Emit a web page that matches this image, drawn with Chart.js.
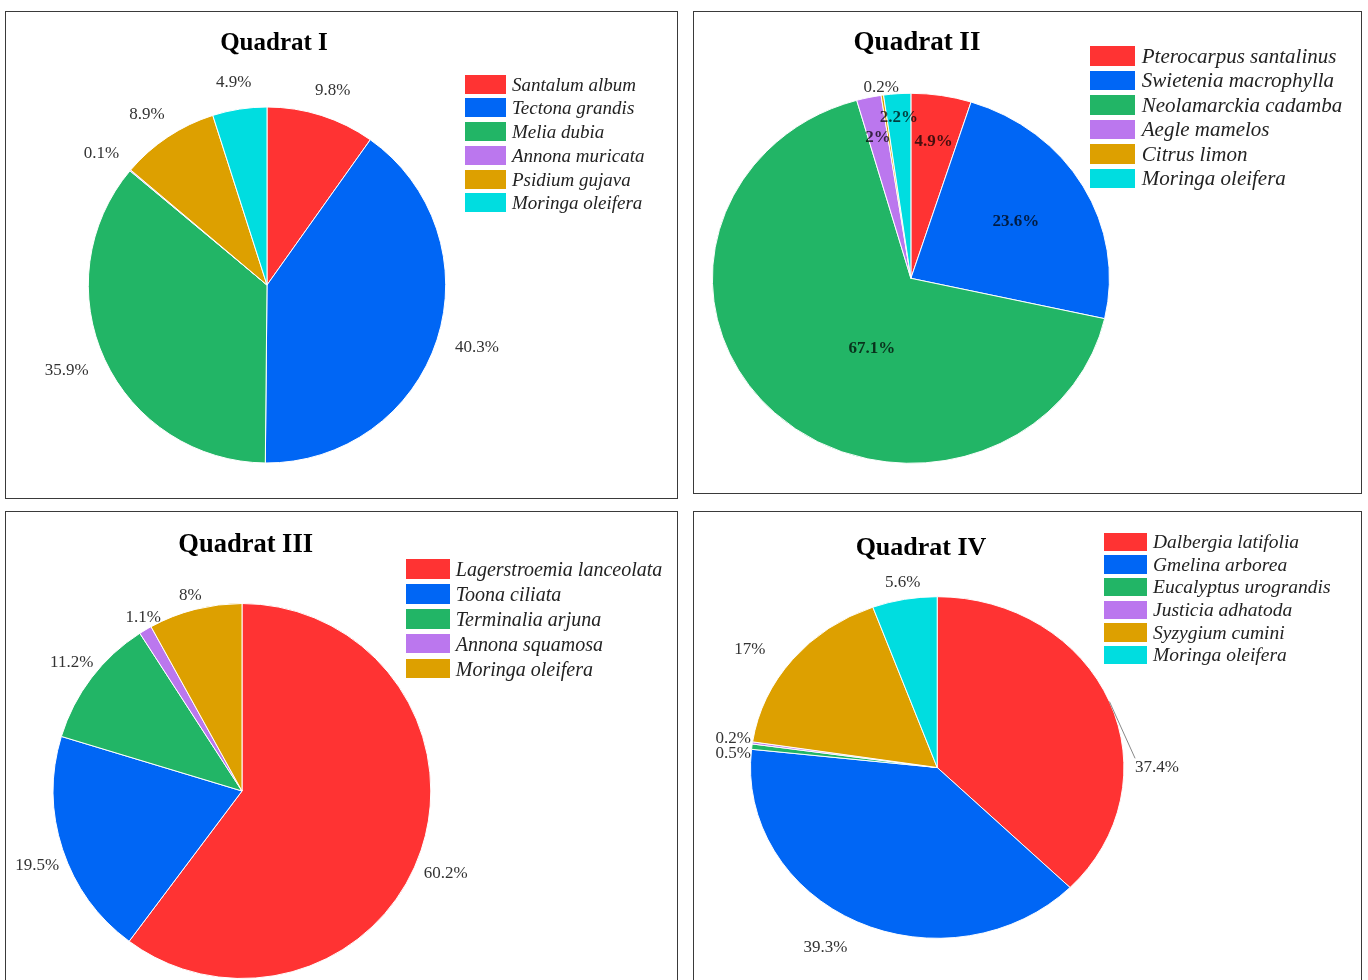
<!DOCTYPE html>
<html>
<head>
<meta charset="utf-8">
<title>Species share per quadrat</title>
<script src="https://cdn.jsdelivr.net/npm/chart.js@4.4.1/dist/chart.umd.min.js"></script>
<style>
  html, body { margin: 0; padding: 0; background: #fff; }
  body { width: 1368px; height: 980px; overflow: hidden; position: relative;
         font-family: "Liberation Serif", "Times New Roman", serif; }
  .panel { position: absolute; box-sizing: border-box; border: 1px solid #3a3a3a; background: #fff; }
  .chartbox { position: absolute; left: -1px; top: -1px; }
  .title { position: absolute; transform: translate(-50%, -50%); font-weight: bold;
           line-height: 1; white-space: nowrap; color: #000; }
  .legend { position: absolute; }
  .legend .row { display: flex; align-items: center; }
  .legend .swatch { flex: none; display: inline-block; }
  .legend .name { font-style: italic; line-height: 1; white-space: nowrap; color: #222; }
</style>
</head>
<body>
<script>
// share of each species (%) in the four quadrats
const q1Species = ['Santalum album', 'Tectona grandis', 'Melia dubia', 'Annona muricata', 'Psidium gujava', 'Moringa oleifera'];
const q1Share = [9.8, 40.3, 35.9, 0.1, 8.9, 4.9];

const q2Species = ['Pterocarpus santalinus', 'Swietenia macrophylla', 'Neolamarckia cadamba', 'Aegle mamelos', 'Citrus limon', 'Moringa oleifera'];
const q2Share = [4.9, 23.6, 67.1, 2, 0.2, 2.2];

const q3Species = ['Lagerstroemia lanceolata', 'Toona ciliata', 'Terminalia arjuna', 'Annona squamosa', 'Moringa oleifera'];
const q3Share = [60.2, 19.5, 11.2, 1.1, 8];

const q4Species = ['Dalbergia latifolia', 'Gmelina arborea', 'Eucalyptus urograndis', 'Justicia adhatoda', 'Syzygium cumini', 'Moringa oleifera'];
const q4Share = [37.4, 39.3, 0.5, 0.2, 17, 5.6];

const palette = ['#ff3333', '#0066f5', '#22b566', '#bb77ee', '#dda000', '#00dde0'];

// panel layout (px, relative to each panel's corner)
const panels = [
  { title: 'Quadrat I', species: q1Species, share: q1Share,
    box: { x: 5, y: 11, w: 673, h: 488 }, head: { x: 268, y: 28.7, size: 25 },
    pie: { cx: 262, cy: 274, rx: 178.7, ry: 178 },
    legend: { x: 459, y: 72.3, step: 23.7, sw: 41, sh: 19, gap: 6, size: 19 },
    labels: { mode: 'outside', gap: 20 } },
  { title: 'Quadrat II', species: q2Species, share: q2Share,
    box: { x: 693, y: 11, w: 669, h: 483 }, head: { x: 223, y: 28.7, size: 27 },
    pie: { cx: 217.9, cy: 267.3, rx: 198.5, ry: 185 },
    legend: { x: 395.8, y: 44, step: 24.5, sw: 45, sh: 19.5, gap: 7, size: 21 },
    labels: { mode: 'inside', radius: [0.75, 0.61, 0.55, 0.78, 1.04, 0.87], nudge: { 2: [36, -4] } } },
  { title: 'Quadrat III', species: q3Species, share: q3Share,
    box: { x: 5, y: 511, w: 673, h: 480 }, head: { x: 239.7, y: 30.7, size: 26.5 },
    pie: { cx: 237, cy: 280, rx: 188.8, ry: 187.5 },
    legend: { x: 399.8, y: 57, step: 24.9, sw: 44, sh: 19.5, gap: 6, size: 20 },
    labels: { mode: 'outside', gap: 8, nudge: { 0: [-4, 19], 1: [3, 12], 2: [4, -7], 3: [11, 0] } } },
  { title: 'Quadrat IV', species: q4Species, share: q4Share,
    box: { x: 693, y: 511, w: 669, h: 480 }, head: { x: 227, y: 35, size: 26 },
    pie: { cx: 244.2, cy: 256.5, rx: 186.7, ry: 170.8 },
    legend: { x: 410, y: 30, step: 22.6, sw: 43, sh: 18.5, gap: 6, size: 19.5 },
    labels: { mode: 'outside', gap: 15, leader: [0],
              nudge: { 0: [13.5, 74], 1: [-16, 6], 2: [13.7, 9.4], 3: [13, -1.7], 4: [-19, 4], 5: [4, 4] } } }
];

const serif = '"Liberation Serif", "Times New Roman", serif';

// squash the pie into an ellipse and write the % labels
function makePiePlugin(p) {
  const k = p.pie.ry / p.pie.rx;
  const L = p.labels;
  return {
    id: 'quadratPie',
    beforeDatasetsDraw(chart) {
      const arc = chart.getDatasetMeta(0).data[0];
      const ctx = chart.ctx;
      ctx.save();
      ctx.translate(arc.x, arc.y);
      ctx.scale(1, k);
      ctx.translate(-arc.x, -arc.y);
    },
    afterDatasetsDraw(chart) {
      const ctx = chart.ctx;
      ctx.restore();
      const arcs = chart.getDatasetMeta(0).data;
      ctx.save();
      ctx.textAlign = 'center';
      ctx.textBaseline = 'middle';
      arcs.forEach((arc, i) => {
        const mid = (arc.startAngle + arc.endAngle) / 2;
        const c = Math.cos(mid), s = Math.sin(mid);
        const rx = arc.outerRadius, ry = rx * k;
        const text = p.share[i] + '%';
        const inside = L.mode === 'inside' && L.radius[i] < 1;
        ctx.font = (inside ? 'bold ' : '') + '17px ' + serif;
        ctx.fillStyle = inside ? 'rgba(0,0,0,0.72)' : '#333';
        const w = ctx.measureText(text).width, h = 13;
        let x, y;
        if (L.mode === 'inside') {
          x = arc.x + L.radius[i] * rx * c;
          y = arc.y + L.radius[i] * ry * s;
        } else {
          x = arc.x + (rx + L.gap) * c + w / 2 * c;
          y = arc.y + (ry + L.gap) * s + h / 2 * s;
        }
        const n = L.nudge && L.nudge[i];
        if (n) { x += n[0]; y += n[1]; }
        if (L.leader && L.leader.includes(i)) {
          ctx.strokeStyle = '#888';
          ctx.lineWidth = 1;
          ctx.beginPath();
          ctx.moveTo(arc.x + rx * c, arc.y + ry * s);
          ctx.lineTo(x - w / 2, y - 9);
          ctx.stroke();
        }
        ctx.fillText(text, x, y);
      });
      ctx.restore();
    }
  };
}

panels.forEach(p => {
  const panel = document.createElement('div');
  panel.className = 'panel';
  Object.assign(panel.style, { left: p.box.x + 'px', top: p.box.y + 'px', width: p.box.w + 'px', height: p.box.h + 'px' });
  document.body.appendChild(panel);

  const wrap = document.createElement('div');
  wrap.className = 'chartbox';
  wrap.style.width = p.box.w + 'px';
  wrap.style.height = p.box.h + 'px';
  const canvas = document.createElement('canvas');
  wrap.appendChild(canvas);
  panel.appendChild(wrap);

  const head = document.createElement('div');
  head.className = 'title';
  head.textContent = p.title;
  Object.assign(head.style, { left: p.head.x + 'px', top: p.head.y + 'px', fontSize: p.head.size + 'px' });
  panel.appendChild(head);

  const lg = p.legend;
  const legend = document.createElement('div');
  legend.className = 'legend';
  legend.style.left = lg.x + 'px';
  legend.style.top = (lg.y - lg.step / 2) + 'px';
  p.species.forEach((name, i) => {
    const row = document.createElement('div');
    row.className = 'row';
    row.style.height = lg.step + 'px';
    const sw = document.createElement('span');
    sw.className = 'swatch';
    Object.assign(sw.style, { width: lg.sw + 'px', height: lg.sh + 'px', background: palette[i], marginRight: lg.gap + 'px' });
    const label = document.createElement('span');
    label.className = 'name';
    label.style.fontSize = lg.size + 'px';
    label.textContent = name;
    row.appendChild(sw);
    row.appendChild(label);
    legend.appendChild(row);
  });
  panel.appendChild(legend);

  // padding puts the pie's bounding square where it sits in the figure
  const R = p.pie.rx + 0.5;
  new Chart(canvas, {
    type: 'pie',
    data: {
      labels: p.species,
      datasets: [{
        data: p.share,
        backgroundColor: palette.slice(0, p.share.length),
        borderColor: '#ffffff',
        borderWidth: 1
      }]
    },
    options: {
      responsive: true,
      maintainAspectRatio: false,
      animation: false,
      events: [],
      layout: {
        padding: {
          left: p.pie.cx - R,
          right: p.box.w - p.pie.cx - R,
          top: p.pie.cy - R,
          bottom: p.box.h - p.pie.cy - R
        }
      },
      plugins: {
        legend: { display: false },
        tooltip: { enabled: false }
      }
    },
    plugins: [makePiePlugin(p)]
  });
});
</script>
</body>
</html>
